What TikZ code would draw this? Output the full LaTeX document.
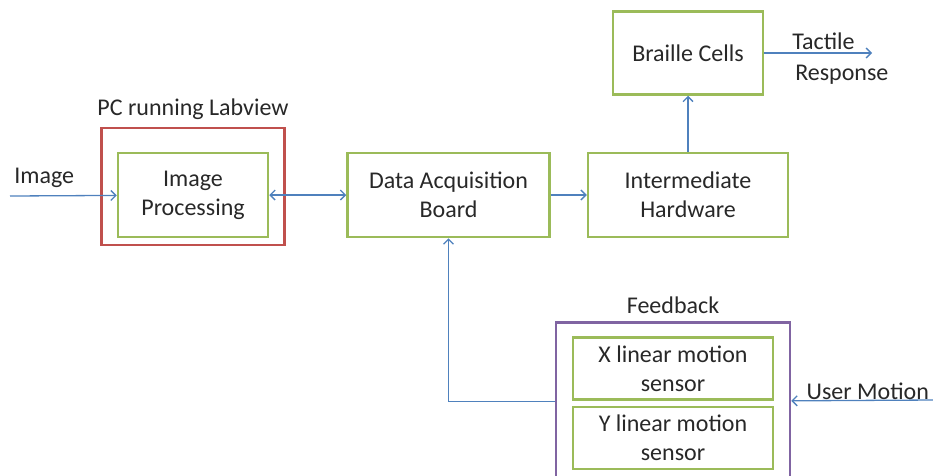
\documentclass[tikz,border=0pt]{standalone}
\usepackage{fontspec}
\setmainfont{Carlito}
\usetikzlibrary{positioning,arrows.meta}
\definecolor{boxgreen}{RGB}{155,187,89}
\definecolor{boxred}{RGB}{192,80,77}
\definecolor{boxpurple}{RGB}{128,100,162}
\definecolor{arrowblue}{RGB}{79,129,189}
\definecolor{textgray}{RGB}{40,40,40}
\tikzset{
block/.style={rectangle, draw=boxgreen, line width=2.5pt, text centered, align=center, minimum height=84pt, text=textgray},
sensor/.style={block, minimum width=200pt, minimum height=62pt},
framebox/.style={rectangle, line width=2.5pt},
lbl/.style={text=textgray},
line/.style={draw=arrowblue, line width=1.3pt, -{Straight Barb[length=5pt, width=10pt]}}
}

\begin{document}
\begin{tikzpicture}[x=1pt, y=1pt, font=\fontsize{24}{29}\selectfont]
    \clip (0,0) rectangle (933,-475);
    % Place nodes
    \node [block, minimum width=150pt] (improc) at (193,-195) {Image\\Processing};
    \node [framebox, draw=boxred, minimum width=183pt, minimum height=117pt, yshift=8.5pt] (pc) at (improc) {};
    \node [lbl, above=4pt of pc] (pctext) {PC running Labview};
    \node [block, minimum width=202pt, right=77pt of improc] (daq) {Data Acquisition\\Board};
    \node [block, minimum width=200pt, right=36pt of daq] (inter) {Intermediate\\Hardware};
    \node [block, minimum width=150pt, minimum height=83pt, above=56pt of inter] (braille) {Braille Cells};
    \node [framebox, draw=boxpurple, minimum width=234pt, minimum height=158pt, below right=83pt and 4pt of daq.south east, anchor=north west] (feedback) {};
    \node [lbl, above=4pt of feedback] (fbtext) {Feedback};
    \node [sensor, below=15pt of feedback.north] (xsensor) {X linear motion\\sensor};
    \node [sensor, below=5pt of xsensor] (ysensor) {Y linear motion\\sensor};
    \coordinate (imgin) at (10,-196);
    \coordinate (tactile) at (872,-53);
    \coordinate (motion) at (933,-400);
    % Draw edges
    \path [line] (imgin) -- node [lbl, pos=0.32, above=4pt] {Image} (improc);
    \path [line, {Straight Barb[length=5pt, width=10pt]}-{Straight Barb[length=5pt, width=10pt]}] (improc) -- (daq);
    \path [line] (daq) -- (inter);
    \path [line] (inter) -- (braille);
    \path [line] (braille) -- node [lbl, pos=0.55, above=-1pt] {Tactile}
        node [lbl, pos=0.72, below=8pt] {Response} (tactile);
    \path [line] (feedback.west) -| (daq.south);
    \path [line] (motion) -- node [lbl, pos=0.46, above=-3pt] {User Motion} (feedback);
\end{tikzpicture}
\end{document}
